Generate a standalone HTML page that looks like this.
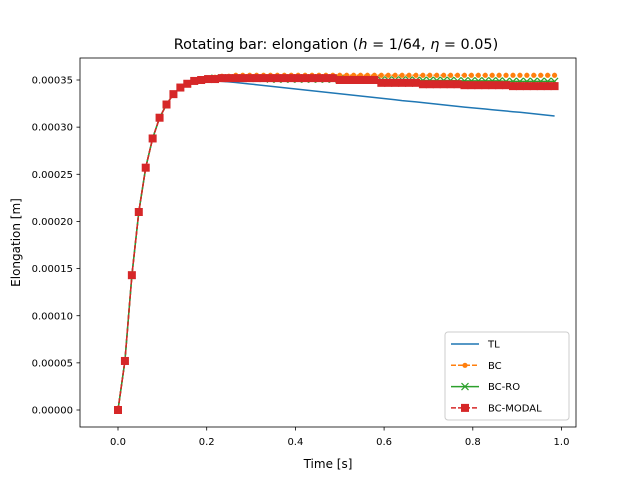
<!DOCTYPE html>
<html><head><meta charset="utf-8"><style>
body{margin:0;background:#fff;font-family:"Liberation Sans","DejaVu Sans",sans-serif}
svg text{font-family:"DejaVu Sans","Liberation Sans",sans-serif;fill:#000}
</style></head><body>
<svg id="chart" width="640" height="480" xmlns="http://www.w3.org/2000/svg">
<rect width="640" height="480" fill="#fff"/>
<text x="336" y="49" font-size="14.4" text-anchor="middle">Rotating bar: elongation (<tspan font-style="italic">h</tspan> = 1/64, <tspan font-style="italic">η</tspan> = 0.05)</text>
<g id="plot"></g>
<rect x="80" y="58" width="496" height="369" fill="none" stroke="#000" stroke-width="0.8"/>
<g id="axes"></g>
<text x="328" y="468" font-size="12" text-anchor="middle">Time [s]</text>
<text transform="translate(20,242.5) rotate(-90)" font-size="12" text-anchor="middle">Elongation [m]</text>
<g id="legend"></g>
</svg>
<script>
const dt = 1/64;
const ramp = [0,52,143,210,257,288,310,324,335,342,346,349,350];
const tlTail = [349,349,348.5,348,347.3,346.6,345.8,345.0,344.2,343.4,342.6,341.8,341.0,340.2,339.4,338.6,337.8,337.0,336.2,335.4,334.6,333.8,333.0,332.2,331.4,330.6,329.8,329.0,328.2,327.5,326.8,326.0,325.2,324.4,323.6,322.8,322.0,321.3,320.6,319.9,319.2,318.5,317.8,317.1,316.4,315.7,315.0,314.2,313.4,312.6,311.8];
const bcTail = [352,353,354,354,355,355,355,355,355,355,355,355,355,355,355,355,355,355,355,355,355,355,355,355,355,355,355,355,355,355,355,355,355,355,355,355,355,355,355,355,355,355,355,355,355,355,355,355,355,355,355];
const roTail = [351,352,352,352,352,352,352,352,352,351,351,351,351,351,351,351,351,351,351,351,350,350,350,350,350,350,350,350,350,350,349.5,349.5,349.5,349.5,349.5,349.5,349,349,349,349,349,349,349,348.5,348.5,348.5,348.5,348.5,348.5,348.5,348.5];
const modalTail = [351,351,352,352,352,352,352,352,352,352,352,352,352,352,352,352,352,352,352,350,350,350,350,350,350,347,347,347,347,347,347,345.5,345.5,345.5,345.5,345.5,345.5,344.5,344.5,344.5,344.5,344.5,344.5,344.5,343.5,343.5,343.5,343.5,343.5,343.5,343.5];
const xTicks = [0.0,0.2,0.4,0.6,0.8,1.0];
const xTickLabels = ["0.0","0.2","0.4","0.6","0.8","1.0"];
const yTicks = [0,0.00005,0.0001,0.00015,0.0002,0.00025,0.0003,0.00035];
const yTickLabels = ["0.00000","0.00005","0.00010","0.00015","0.00020","0.00025","0.00030","0.00035"];
const seriesNames = ["TL","BC","BC-RO","BC-MODAL"];

const NS="http://www.w3.org/2000/svg";
function X(t){return 118+(t)*443.5;}
function Y(v){return 410-v*942857;}
function mk(tag,attrs,parent){const e=document.createElementNS(NS,tag);for(const k in attrs)e.setAttribute(k,attrs[k]);parent.appendChild(e);return e;}
const plot=document.getElementById('plot'), axes=document.getElementById('axes'), legend=document.getElementById('legend');
const series=[
 {vals:ramp.concat(tlTail),color:"#1f77b4",dash:"",marker:null},
 {vals:ramp.concat(bcTail),color:"#ff7f0e",dash:"5,2",marker:"o"},
 {vals:ramp.concat(roTail),color:"#2ca02c",dash:"",marker:"x"},
 {vals:ramp.concat(modalTail),color:"#d62728",dash:"5,2",marker:"s"}
];
function marker(type,x,y,c,g){
  if(type==="o"){const e=mk('circle',{cx:x,cy:y,r:2.6,fill:c},g);return e;}
  if(type==="x"){const e=mk('path',{d:`M${x-3.5},${y-3.5}L${x+3.5},${y+3.5}M${x-3.5},${y+3.5}L${x+3.5},${y-3.5}`,stroke:c,'stroke-width':1.2},g);return e;}
  if(type==="s"){const e=mk('rect',{x:x-4,y:y-4,width:8,height:8,fill:c},g);return e;}
}
series.forEach((s,si)=>{
  const g=mk('g',{},plot);
  
  
  const pts=s.vals.map((v,i)=>X(i*dt).toFixed(1)+","+Y(v*1e-6).toFixed(1)).join(" ");
  const pl=mk('polyline',{points:pts,fill:"none",stroke:s.color,'stroke-width':1.5,'stroke-dasharray':s.dash},g);
  
  
  if(s.marker){s.vals.forEach((v,i)=>{const m=marker(s.marker,X(i*dt),Y(v*1e-6),s.color,g);
    
    });}
});
xTicks.forEach((t,i)=>{const x=X(t);
  const l=mk('line',{x1:x,x2:x,y1:427,y2:430.5,stroke:"#000",'stroke-width':0.8},axes);
  
  
  const tx=mk('text',{x:x,y:445,'font-size':10,'text-anchor':'middle'},axes);tx.textContent=xTickLabels[i];
  
  
});
yTicks.forEach((v,i)=>{const y=Y(v);
  const l=mk('line',{x1:76.5,x2:80,y1:y,y2:y,stroke:"#000",'stroke-width':0.8},axes);
  
  
  const tx=mk('text',{x:73,y:y+3.6,'font-size':10,'text-anchor':'end'},axes);tx.textContent=yTickLabels[i];
  
  
});
const lb=mk('rect',{x:445,y:332,width:124,height:88,rx:3,fill:"#fff",'fill-opacity':0.8,stroke:"#ccc",'stroke-width':1},legend);


series.forEach((s,i)=>{const y=344+i*21.3;
  const g=mk('g',{},legend);
  
  
  mk('line',{x1:451,x2:479,y1:y,y2:y,stroke:s.color,'stroke-width':1.5,'stroke-dasharray':s.dash},g);
  if(s.marker)marker(s.marker,465,y,s.color,g);
  const tx=mk('text',{x:488,y:y+3.6,'font-size':10},g);tx.textContent=seriesNames[i];
});
</script>
</body></html>
